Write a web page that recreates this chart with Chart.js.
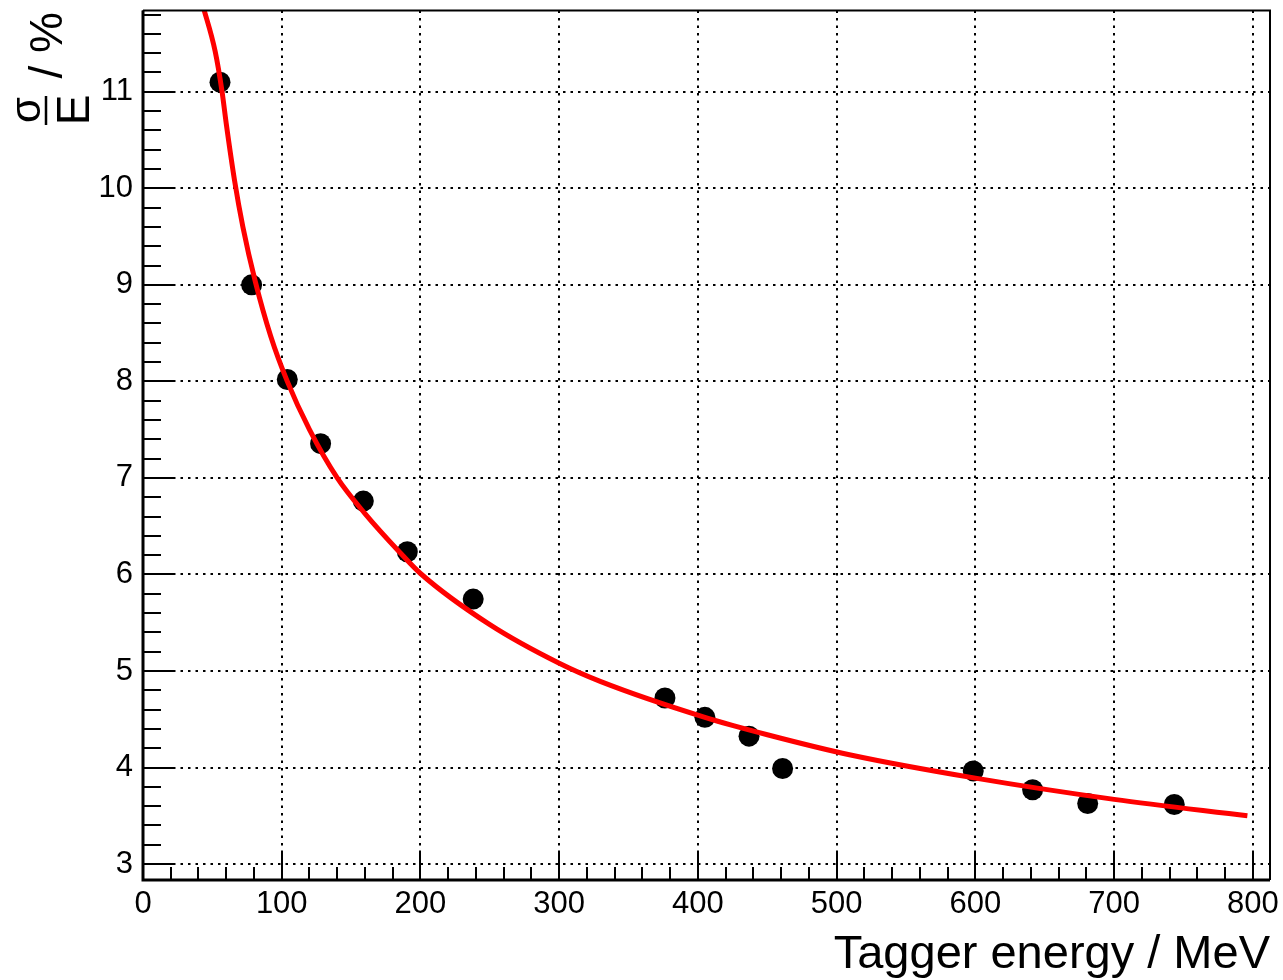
<!DOCTYPE html>
<html>
<head>
<meta charset="utf-8">
<script src="https://cdn.jsdelivr.net/npm/chart.js@4.4.0/dist/chart.umd.min.js"></script>
<style>
html,body{margin:0;padding:0;background:#fff;}
#wrap{width:1283px;height:980px;}
</style>
</head>
<body>
<div id="wrap"><canvas id="c" width="1283" height="980"></canvas></div>
<script>
// Measured points: tagger energy (MeV) and resolution sigma/E (%)
const energies   = [55.5, 78.3, 104, 128, 158.8, 190.5, 238, 376.2, 405, 436.8, 461, 598.4, 641.2, 680.9, 743.3];
const resolution = [11.10, 9.00, 8.02, 7.355, 6.76, 6.235, 5.745, 4.72, 4.52, 4.325, 3.99, 3.965, 3.77, 3.627, 3.617];

// Fit curve
const fitEnergies   = [43, 52, 57, 60, 66, 72, 81, 92, 104, 120, 140, 160, 185, 200, 250, 300, 330, 405, 450, 510, 600, 700, 796];
const fitResolution = [11.90, 11.42, 11.0, 10.67, 10.08, 9.6, 9.03, 8.47, 8.0, 7.5, 7.0, 6.63, 6.23, 6.01, 5.48, 5.08, 4.89, 4.52, 4.34, 4.13, 3.89, 3.67, 3.50];

const xTickLabels = ['0', '100', '200', '300', '400', '500', '600', '700', '800'];
const yTickLabels = ['3', '4', '5', '6', '7', '8', '9', '10', '11'];

const xTitle = 'Tagger energy / MeV';
const yTitleNum = 'σ';
const yTitleDen = 'E';
const yTitleUnit = '/ %';

const FONT = '"Liberation Sans", Arial, Helvetica, sans-serif';

const rootAxes = {
  id: 'rootAxes',
  afterDatasetsDraw(chart) {
    const {ctx, chartArea, scales} = chart;
    const {left, right, top, bottom} = chartArea;
    const xs = scales.x, ys = scales.y;
    ctx.save();
    ctx.strokeStyle = '#000';
    ctx.lineWidth = 2;
    ctx.beginPath();
    // x ticks (inside)
    for (let k = 0; k * 20 <= xs.max; k++) {
      const px = Math.round(xs.getPixelForValue(k * 20));
      const len = (k % 5 === 0) ? 28 : 13;
      ctx.moveTo(px, bottom);
      ctx.lineTo(px, bottom - len);
    }
    // y ticks (inside)
    for (let k = Math.ceil(ys.min * 5); k <= Math.floor(ys.max * 5); k++) {
      const py = Math.round(ys.getPixelForValue(k / 5));
      const len = (k % 5 === 0) ? 32 : 18;
      ctx.moveTo(left, py);
      ctx.lineTo(left + len, py);
    }
    ctx.stroke();
    // frame
    ctx.lineWidth = 2;
    ctx.beginPath();
    ctx.moveTo(left, top); ctx.lineTo(right, top); ctx.lineTo(right, bottom);
    ctx.stroke();
    ctx.lineWidth = 3;
    ctx.beginPath();
    ctx.moveTo(left, top); ctx.lineTo(left, bottom); ctx.lineTo(right, bottom);
    ctx.stroke();

    // x title
    ctx.fillStyle = '#000';
    ctx.font = '47px ' + FONT;
    ctx.textAlign = 'right';
    ctx.textBaseline = 'alphabetic';
    ctx.fillText(xTitle, right, 968);

    // y title (rotated), fraction sigma over E, then "/ %"
    ctx.save();
    ctx.rotate(-Math.PI / 2);
    // rotated frame: tx = -screenY, ty = screenX
    ctx.textAlign = 'center';
    ctx.font = '42px ' + FONT;
    ctx.fillText(yTitleNum, -110, 40);
    ctx.font = '46px ' + FONT;
    ctx.fillText(yTitleDen, -110, 89);
    ctx.lineWidth = 2.5;
    ctx.beginPath();
    ctx.moveTo(-125, 46);
    ctx.lineTo(-96, 46);
    ctx.stroke();
    ctx.textAlign = 'right';
    ctx.font = '46px ' + FONT;
    ctx.fillText(yTitleUnit, -12, 62);
    ctx.restore();

    ctx.restore();
  }
};

new Chart(document.getElementById('c'), {
  data: {
    datasets: [
      {
        type: 'line',
        data: fitEnergies.map((e, i) => ({x: e, y: fitResolution[i]})),
        borderColor: '#ff0000',
        borderWidth: 5,
        pointRadius: 0,
        fill: false,
        cubicInterpolationMode: 'monotone',
        order: 0
      },
      {
        type: 'scatter',
        data: energies.map((e, i) => ({x: e, y: resolution[i]})),
        backgroundColor: '#000',
        borderColor: '#000',
        borderWidth: 0,
        pointRadius: 10.5,
        order: 1
      }
    ]
  },
  options: {
    responsive: false,
    animation: false,
    devicePixelRatio: 1,
    layout: {padding: {left: 0, right: 13, top: 8, bottom: 0}},
    plugins: {legend: {display: false}, tooltip: {enabled: false}},
    scales: {
      x: {
        type: 'linear',
        min: 0,
        max: 812.3,
        afterBuildTicks: s => { s.ticks = xTickLabels.map(v => ({value: Number(v)})); },
        afterFit: s => { s.height = 100; s.paddingLeft = 0; s.paddingRight = 0; },
        grid: {color: '#000', lineWidth: 2, drawTicks: false},
        border: {display: false, dash: [2.5, 5]},
        ticks: {
          color: '#000',
          font: {family: FONT, size: 31},
          padding: 6,
          maxRotation: 0,
          autoSkip: false,
          callback: (v, i) => xTickLabels[i]
        }
      },
      y: {
        type: 'linear',
        min: 2.835,
        max: 11.842,
        afterBuildTicks: s => { s.ticks = yTickLabels.map(v => ({value: Number(v)})); },
        afterFit: s => { s.width = 143; s.paddingTop = 0; s.paddingBottom = 0; },
        grid: {color: '#000', lineWidth: 2, drawTicks: false},
        border: {display: false, dash: [2.5, 5]},
        ticks: {
          color: '#000',
          font: {family: FONT, size: 31},
          padding: 10,
          autoSkip: false,
          callback: (v, i) => yTickLabels[i]
        }
      }
    }
  },
  plugins: [rootAxes]
});
</script>
</body>
</html>
